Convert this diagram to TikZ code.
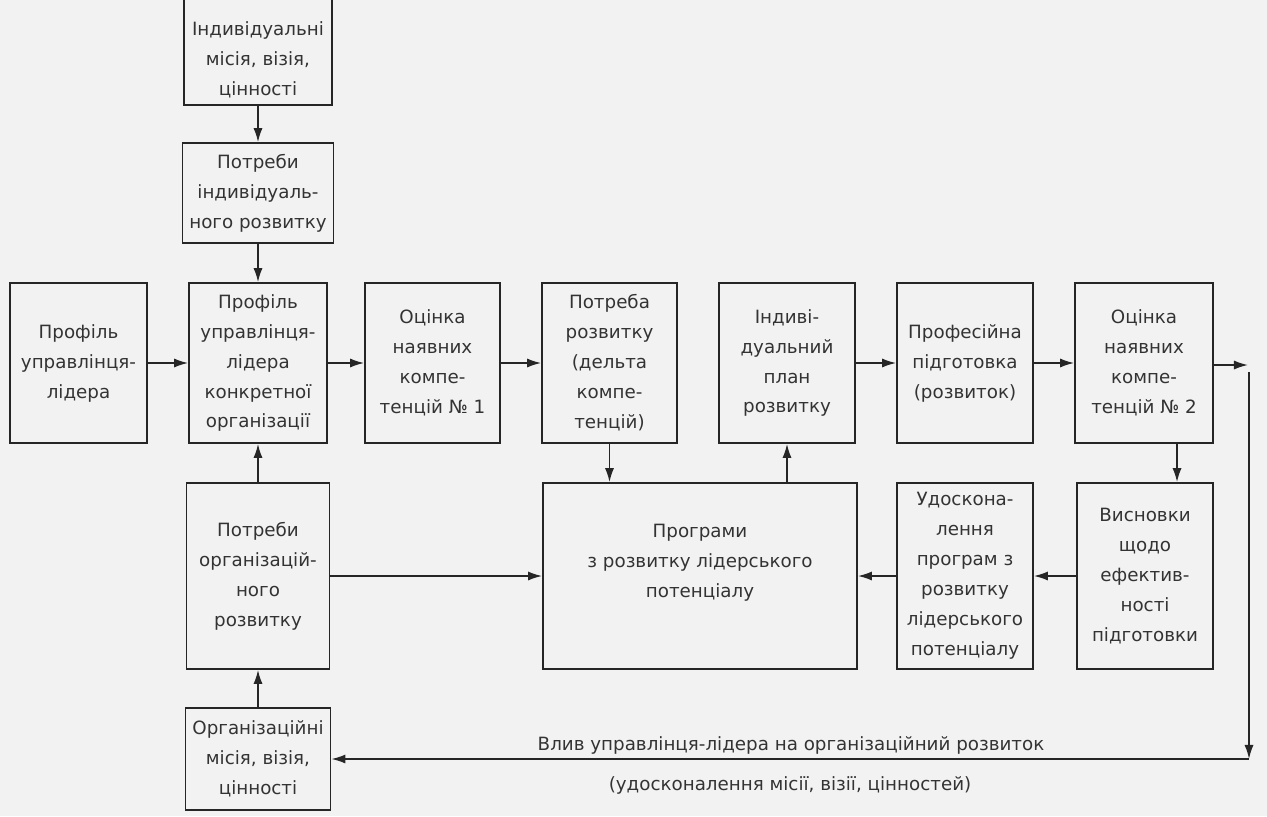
\documentclass[tikz,border=0pt]{standalone}
\usepackage{fontspec}
\setmainfont{DejaVu Sans}
\usetikzlibrary{arrows.meta}

\begin{document}
\begin{tikzpicture}[x=0.025cm, y=-0.025cm,
        >={Latex[length=10pt,width=6.5pt]},
        box/.style={draw=black!85, line width=1.2pt, align=center, inner sep=1pt,
            font=\fontsize{13}{21.3}\selectfont, text=black!80},
        rowbox/.style={box, minimum height=4cm},
        lowbox/.style={box, minimum height=4.65cm},
        link/.style={->, draw=black!85, line width=1.2pt},
        lbl/.style={font=\fontsize{13}{16}\selectfont, text=black!80}]
        \useasboundingbox[fill=black!5] (0,0) rectangle (1267,816);

        % individual level
        \node[box, draw=none, minimum width=3.65cm, minimum height=2.2cm] (indmis) at (258,60) {Індивідуальні\\місія, візія,\\цінності};
        \draw[black!85, line width=1.2pt] ([yshift=0.5cm]indmis.north west) -- (indmis.south west) -- (indmis.south east) -- ([yshift=0.5cm]indmis.north east);
        \node[box, minimum width=3.775cm, minimum height=2.5cm] (indneed) at (258,193) {Потреби\\індивідуаль-\\ного розвитку};

        % main row
        \node[rowbox, minimum width=3.425cm] (proflead) at (78.5,363) {Профіль\\управлінця-\\лідера};
        \node[rowbox, minimum width=3.45cm] (profown) at (258,363) {Профіль\\управлінця-\\лідера\\конкретної\\організації};
        \node[rowbox, minimum width=3.375cm] (eval1) at (432.5,363) {Оцінка\\наявних\\компе-\\тенцій № 1};
        \node[rowbox, minimum width=3.375cm] (needdev) at (609.5,363) {Потреба\\розвитку\\(дельта\\компе-\\тенцій)};
        \node[rowbox, minimum width=3.4cm] (indplan) at (787,363) {Індиві-\\дуальний\\план\\розвитку};
        \node[rowbox, minimum width=3.4cm] (training) at (965,363) {Професійна\\підготовка\\(розвиток)};
        \node[rowbox, minimum width=3.45cm] (eval2) at (1144,363) {Оцінка\\наявних\\компе-\\тенцій № 2};

        % lower row
        \node[lowbox, minimum width=3.575cm] (orgneed) at (258,576) {Потреби\\організацій-\\ного\\розвитку};
        \node[lowbox, minimum width=7.85cm, text depth=0.75cm] (progs) at (700,576) {Програми\\з розвитку лідерського\\потенціалу};
        \node[lowbox, minimum width=3.4cm] (improve) at (965,576) {Удоскона-\\лення\\програм з\\розвитку\\лідерського\\потенціалу};
        \node[lowbox, minimum width=3.4cm] (concl) at (1145,576) {Висновки\\щодо\\ефектив-\\ності\\підготовки};
        \node[box, minimum width=3.625cm, minimum height=2.55cm] (orgmis) at (258,759) {Організаційні\\місія, візія,\\цінності};

        % connectors
        \draw[link] (indmis) -- (indneed);
        \draw[link] (indneed) -- (profown);
        \draw[link] (proflead) -- (profown);
        \draw[link] (profown) -- (eval1);
        \draw[link] (eval1) -- (needdev);
        \draw[link] (indplan) -- (training);
        \draw[link] (training) -- (eval2);
        \draw[link] (orgneed) -- (profown);
        \draw[link] (orgmis) -- (orgneed);
        \draw[link] (orgneed) -- (progs);
        \draw[link] (improve) -- (progs);
        \draw[link] (concl) -- (improve);
        \draw[link] (needdev.south) -- (needdev.south |- progs.north);
        \draw[link] (progs.north -| indplan) -- (indplan.south);
        \coordinate (d7) at ([xshift=0.825cm]eval2.south);
        \draw[link] (d7) -- (d7 |- concl.north);

        % feedback loop
        \coordinate (rt) at (1248,365);
        \coordinate (vtop) at (1249,372);
        \coordinate (vbot) at (1249,759);
        \draw[link] (eval2.east |- rt) -- (rt);
        \draw[link] (vtop) -- (vbot);
        \draw[link] (vbot) -- (orgmis.east);

        \node[lbl] (infl) at (791,745) {Влив управлінця-лідера на організаційний розвиток};
        \node[lbl] (infl2) at (790,785) {(удосконалення місії, візії, цінностей)};
    \end{tikzpicture}
\end{document}
